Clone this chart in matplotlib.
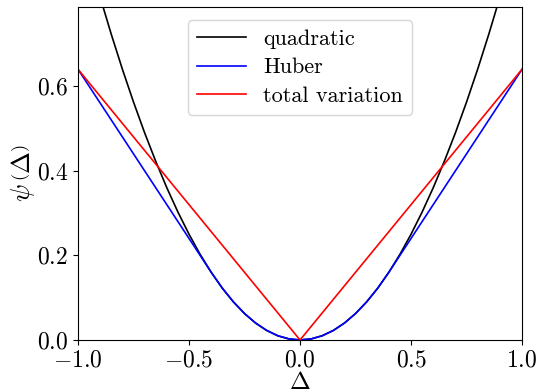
import numpy as np
import matplotlib
matplotlib.use("Agg")
import matplotlib.pyplot as plt
from matplotlib.ticker import FuncFormatter

plt.rcParams['font.family'] = 'serif'
plt.rcParams['font.serif'] = ['cmr10']
plt.rcParams['mathtext.fontset'] = 'cm'
plt.rcParams['axes.unicode_minus'] = False

# right half of the curves, |delta| = 0.00 ... 1.00 in steps of 0.05
half_delta = [0.00, 0.05, 0.10, 0.15, 0.20, 0.25, 0.30, 0.35, 0.40, 0.45, 0.50,
              0.55, 0.60, 0.65, 0.70, 0.75, 0.80, 0.85, 0.90, 0.95, 1.00]
half_quadratic = [0.0, 0.0025, 0.01, 0.0225, 0.04, 0.0625, 0.09, 0.1225, 0.16, 0.2025, 0.25,
                  0.3025, 0.36, 0.4225, 0.49, 0.5625, 0.64, 0.7225, 0.81, 0.9025, 1.0]
half_huber = [0.0, 0.0025, 0.01, 0.0225, 0.04, 0.0625, 0.09, 0.1225, 0.16, 0.20, 0.24,
              0.28, 0.32, 0.36, 0.40, 0.44, 0.48, 0.52, 0.56, 0.60, 0.64]
half_tv = [0.0, 0.032, 0.064, 0.096, 0.128, 0.16, 0.192, 0.224, 0.256, 0.288, 0.32,
           0.352, 0.384, 0.416, 0.448, 0.48, 0.512, 0.544, 0.576, 0.608, 0.64]


def mirror(vals, sign=1):
    # left side is the same curve, flipped
    return [sign * v for v in vals[:0:-1]] + list(vals)


delta = mirror(half_delta, -1)
quadratic = mirror(half_quadratic)
huber = mirror(half_huber)
tv = mirror(half_tv)

fig = plt.figure(figsize=(5.36, 3.92), dpi=100)
ax = fig.add_subplot(111)
fig.subplots_adjust(left=0.1455, right=0.974, bottom=0.1327, top=0.982)

ax.plot(delta, quadratic, color='black', lw=1.2, label='quadratic')
ax.plot(delta, huber, color='blue', lw=1.2, label='Huber')
ax.plot(delta, tv, color='red', lw=1.2, label='total variation')

ax.set_xlim(-1, 1)
ax.set_ylim(0, 0.787)
ax.set_xticks([-1.0, -0.5, 0.0, 0.5, 1.0])
ax.set_yticks([0.0, 0.2, 0.4, 0.6])
fmt = FuncFormatter(lambda v, p: r'$%.1f$' % v)
ax.xaxis.set_major_formatter(fmt)
ax.yaxis.set_major_formatter(fmt)
ax.tick_params(labelsize=17)

ax.set_xlabel(r'$\Delta$', fontsize=18)
ax.xaxis.set_label_coords(0.5, -0.097)
ax.set_ylabel(r'$\psi\,\left(\Delta\right)$', fontsize=19)
ax.yaxis.set_label_coords(-0.092, 0.5)

ax.legend(loc='upper center', fontsize=16, handlelength=2.2,
          borderaxespad=0.6, labelspacing=0.4)

plt.savefig("out.png", dpi=100)
